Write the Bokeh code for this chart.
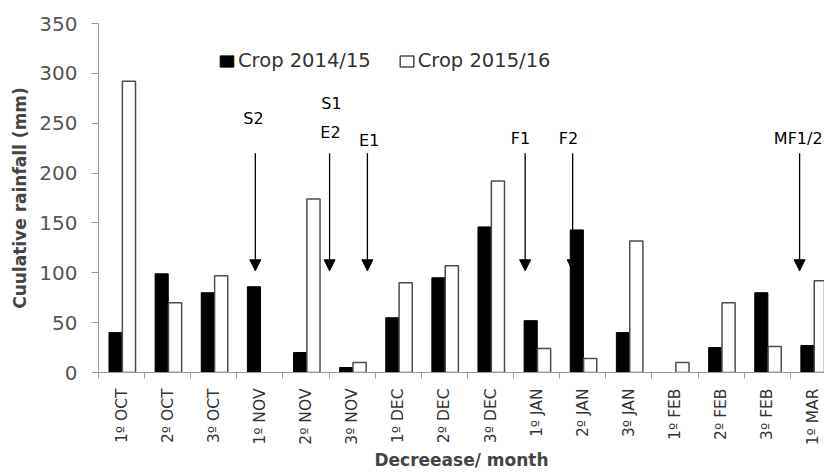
import math
from bokeh.plotting import figure
from bokeh.models import (Range1d, FixedTicker, Legend, LegendItem, Arrow, NormalHead,
                          Label)
from bokeh.embed import file_html
from bokeh.resources import INLINE

categories = ["1º OCT", "2º OCT", "3º OCT", "1º NOV", "2º NOV", "3º NOV", "1º DEC", "2º DEC",
              "3º DEC", "1º JAN", "2º JAN", "3º JAN", "1º FEB", "2º FEB", "3º FEB", "1º MAR"]
crop_2014 = [40, 99, 80, 86, 20, 5, 55, 95, 146, 52, 143, 40, 0, 25, 80, 27]
crop_2015 = [292, 70, 97, 0, 174, 10, 90, 107, 192, 24, 14, 132, 10, 70, 26, 92]
events = ["S2", "E2", "E1", "F1", "F2", "MF1/2"]
event_pos = [3.40, 5.01, 5.83, 9.25, 10.28, 15.20]
event_labels = ["S2", "S1", "E2", "E1", "F1", "F2", "MF1/2"]
event_label_x = [3.36, 5.05, 5.03, 5.87, 9.15, 10.19, 15.17]
event_label_y = [255, 270, 241, 233, 235, 235, 235]
y_ticks = [0, 50, 100, 150, 200, 250, 300, 350]

FONT = "DejaVu Sans"
n = len(categories)
p = figure(width=824, height=473, output_backend="svg", toolbar_location=None,
           x_range=Range1d(0, 15.74), y_range=Range1d(0, 350),
           min_border_left=98, min_border_right=0, min_border_top=23, min_border_bottom=101)
p.xgrid.visible = False
p.ygrid.visible = False
p.outline_line_color = None
p.background_fill_color = "white"

# arrows (drawn beneath the bars)
for xp in event_pos:
    a = Arrow(x_start=xp, y_start=220, x_end=xp, y_end=102, line_color="black", line_width=1.3,
              end=NormalHead(size=11, fill_color="black", line_color="black"), level="underlay")
    p.add_layout(a)

centers = [i for i in range(n)]
xb = [i + 0.37 for i in centers]
xw = [i + 0.66 for i in centers]
la_b = [0 if v == 0 else 1 for v in crop_2014]
la_w = [0 if v == 0 else 1 for v in crop_2015]
rb = p.vbar(x=xb, top=crop_2014, width=0.285, fill_color="black", line_color="black",
            line_alpha=la_b, line_width=1)
rw = p.vbar(x=xw, top=crop_2015, width=0.285, fill_color="white", line_color="#4d4d4d",
            line_alpha=la_w, line_width=1.5)

for t, xx, yy in zip(event_labels, event_label_x, event_label_y):
    p.add_layout(Label(x=xx, y=yy, text=t, text_align="center", text_baseline="middle",
                       text_font=FONT, text_font_size="16px", text_color="black"))

legend = Legend(items=[LegendItem(label="Crop 2014/15", renderers=[rb], index=0),
                       LegendItem(label="Crop 2015/16", renderers=[rw], index=0)],
                orientation="horizontal", location=(120, 300), padding=0, margin=0,
                spacing=27, label_standoff=3, glyph_width=17, glyph_height=14, label_height=20,
                label_text_font=FONT, label_text_font_size="19.5px", label_text_color="#333333",
                background_fill_alpha=0, border_line_color=None)
p.add_layout(legend)

# x axis
xa = p.xaxis[0]
xa.ticker = FixedTicker(ticks=[i + 0.5 for i in range(n)], minor_ticks=list(range(n + 1)))
xa.major_label_overrides = {i + 0.5: c for i, c in enumerate(categories)}
xa.major_label_orientation = math.pi / 2
xa.major_tick_line_color = None
xa.major_tick_out = 0
xa.major_tick_in = 0
xa.minor_tick_out = 6
xa.minor_tick_in = 0
xa.minor_tick_line_color = "#9a9a9a"
xa.axis_line_color = "#9a9a9a"
xa.major_label_standoff = 10
xa.major_label_text_font = FONT
xa.major_label_text_font_size = "15.5px"
xa.major_label_text_color = "#333333"
xa.axis_label = "Decreease/ month"
xa.axis_label_text_font = FONT
xa.axis_label_text_font_style = "bold"
xa.axis_label_text_font_size = "17px"
xa.axis_label_standoff = 2

ya = p.yaxis[0]
ya.ticker = FixedTicker(ticks=y_ticks)
ya.minor_tick_line_color = None
ya.major_tick_out = 7
ya.major_tick_in = 0
ya.major_tick_line_color = "#9a9a9a"
ya.axis_line_color = "#9a9a9a"
ya.major_label_standoff = 14
ya.major_label_text_font = FONT
ya.major_label_text_font_size = "20px"
ya.major_label_text_color = "#555555"
ya.axis_label = "Cuulative rainfall (mm)"
ya.axis_label_text_font = FONT
ya.axis_label_text_font_style = "bold"
ya.axis_label_text_font_size = "17px"
ya.axis_label_standoff = 6

open("out.html", "w").write(file_html(p, INLINE))
